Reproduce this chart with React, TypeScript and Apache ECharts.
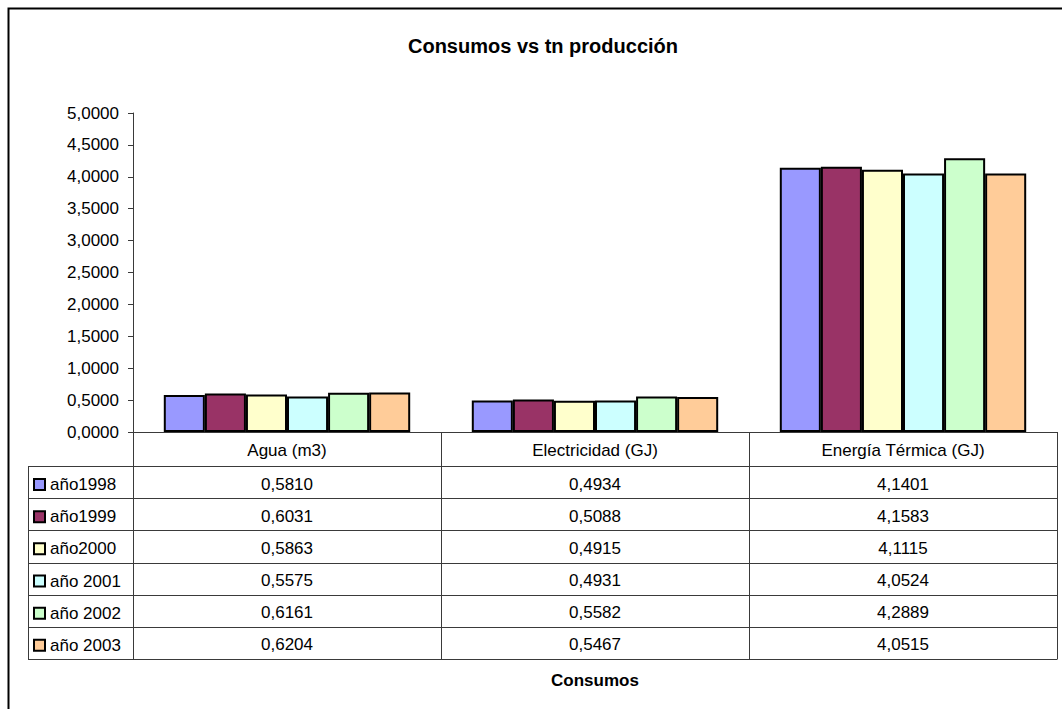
import React, { useEffect, useRef } from "react";
import * as echarts from "echarts";

// ---- data ----
const categories = ["Agua (m3)", "Electricidad (GJ)", "Energía Térmica (GJ)"];
const seriesNames = ["año1998", "año1999", "año2000", "año 2001", "año 2002", "año 2003"];
const values1998 = [0.581, 0.4934, 4.1401];
const values1999 = [0.6031, 0.5088, 4.1583];
const values2000 = [0.5863, 0.4915, 4.1115];
const values2001 = [0.5575, 0.4931, 4.0524];
const values2002 = [0.6161, 0.5582, 4.2889];
const values2003 = [0.6204, 0.5467, 4.0515];
const seriesValues = [values1998, values1999, values2000, values2001, values2002, values2003];
const seriesColors = ["#9999FF", "#993366", "#FFFFCC", "#CCFFFF", "#CCFFCC", "#FFCC99"];
const yMin = 0;
const yMax = 5;
const yStep = 0.5;
const chartTitle = "Consumos vs tn producción";
const xAxisTitle = "Consumos";

// ---- layout ----
const W = 1062;
const H = 709;
const gridLeft = 133;
const gridRight = 1057;
const gridTop = 113;
const gridBottom = 432;
const tableLeft = 28;
const headerBottom = 466;
const rowH = 32.17;
const FONT = 'Arial, "Liberation Sans", sans-serif';
const LINE = "#3a3a3a";

const fmt = (v: number) => v.toFixed(4).replace(".", ",");

export default function App() {
  const ref = useRef<HTMLDivElement>(null);

  useEffect(() => {
    if (!ref.current) return;
    const chart = echarts.init(ref.current, undefined, { renderer: "svg" });
    const nRows = seriesNames.length;
    const tableBottom = headerBottom + rowH * nRows;

    const graphics: any[] = [];
    // outer chart-area border (left and top visible)
    graphics.push({
      type: "polyline",
      shape: { points: [[8.5, H + 5], [8.5, 8.5], [W + 5, 8.5]] },
      style: { stroke: "#000", lineWidth: 2, fill: "none" },
      silent: true,
    });
    // table horizontal lines
    for (let i = 0; i <= nRows; i++) {
      const y = Math.round(headerBottom + rowH * i) + 0.5;
      graphics.push({
        type: "line",
        shape: { x1: tableLeft, y1: y, x2: gridRight, y2: y },
        style: { stroke: LINE, lineWidth: 1 },
        silent: true,
      });
    }
    // table vertical lines
    const colW = (gridRight - gridLeft) / categories.length;
    const vx: number[] = [];
    for (let c = 0; c <= categories.length; c++) vx.push(gridLeft + colW * c);
    vx.forEach((x) => {
      graphics.push({
        type: "line",
        shape: { x1: Math.round(x) + 0.5, y1: gridBottom, x2: Math.round(x) + 0.5, y2: Math.round(tableBottom) + 0.5 },
        style: { stroke: LINE, lineWidth: 1 },
        silent: true,
      });
    });
    graphics.push({
      type: "line",
      shape: { x1: tableLeft + 0.5, y1: headerBottom, x2: tableLeft + 0.5, y2: Math.round(tableBottom) + 0.5 },
      style: { stroke: LINE, lineWidth: 1 },
      silent: true,
    });
    // title
    graphics.push({
      type: "text",
      x: 543,
      y: 46,
      style: {
        text: chartTitle,
        font: `bold 20px ${FONT}`,
        fill: "#000",
        align: "center",
        verticalAlign: "middle",
      },
      silent: true,
    });
    graphics.push({
      type: "text",
      x: (gridLeft + gridRight) / 2,
      y: 680,
      style: {
        text: xAxisTitle,
        font: `bold 17px ${FONT}`,
        fill: "#000",
        align: "center",
        verticalAlign: "middle",
      },
      silent: true,
    });

    // extra x axes used as the data table rows
    const rowAxes = seriesValues.map((vals, i) => ({
      type: "category",
      gridIndex: 0,
      position: "bottom",
      data: categories,
      offset: headerBottom + rowH * i + rowH / 2 + 2 - gridBottom,
      axisLine: { show: false },
      axisTick: { show: false },
      splitLine: { show: false },
      axisLabel: {
        interval: 0,
        margin: 0,
        verticalAlign: "middle",
        fontSize: 17,
        fontFamily: FONT,
        color: "#000",
        formatter: (_v: string, idx: number) => fmt(vals[idx]),
      },
    }));

    chart.setOption({
      animation: false,
      backgroundColor: "#fff",
      grid: {
        left: gridLeft,
        right: W - gridRight,
        top: gridTop,
        bottom: H - gridBottom,
        containLabel: false,
      },
      legend: {
        orient: "vertical",
        left: 33,
        top: 476,
        padding: 0,
        icon: "rect",
        itemWidth: 11,
        itemHeight: 11,
        itemGap: rowH - 17,
        selectedMode: false,
        itemStyle: { borderColor: "#000", borderWidth: 2 },
        textStyle: { fontSize: 17, fontFamily: FONT, color: "#000" },
        data: seriesNames,
      },
      xAxis: [
        {
          type: "category",
          data: categories,
          axisLine: { show: true, lineStyle: { color: LINE, width: 1 } },
          axisTick: { show: false },
          splitLine: { show: false },
          axisLabel: {
            interval: 0,
            margin: 18,
            verticalAlign: "middle",
            fontSize: 17,
            fontFamily: FONT,
            color: "#000",
          },
        },
        ...rowAxes,
      ],
      yAxis: {
        type: "value",
        min: yMin,
        max: yMax,
        interval: yStep,
        axisLine: { show: true, lineStyle: { color: LINE, width: 1 } },
        axisTick: { show: true, length: 5, lineStyle: { color: LINE } },
        splitLine: { show: false },
        axisLabel: {
          margin: 14,
          fontSize: 17,
          fontFamily: FONT,
          color: "#000",
          formatter: (v: number) => fmt(v),
        },
      },
      series: seriesNames.map((name, i) => ({
        name,
        type: "bar",
        xAxisIndex: 0,
        data: seriesValues[i],
        barGap: "0%",
        barCategoryGap: "20%",
        itemStyle: { color: seriesColors[i], borderColor: "#000", borderWidth: 2 },
      })),
      graphic: graphics,
    });

    return () => chart.dispose();
  }, []);

  return (
    <div
      ref={ref}
      style={{ position: "fixed", left: 0, top: 0, width: W + "px", height: H + "px" }}
    />
  );
}
